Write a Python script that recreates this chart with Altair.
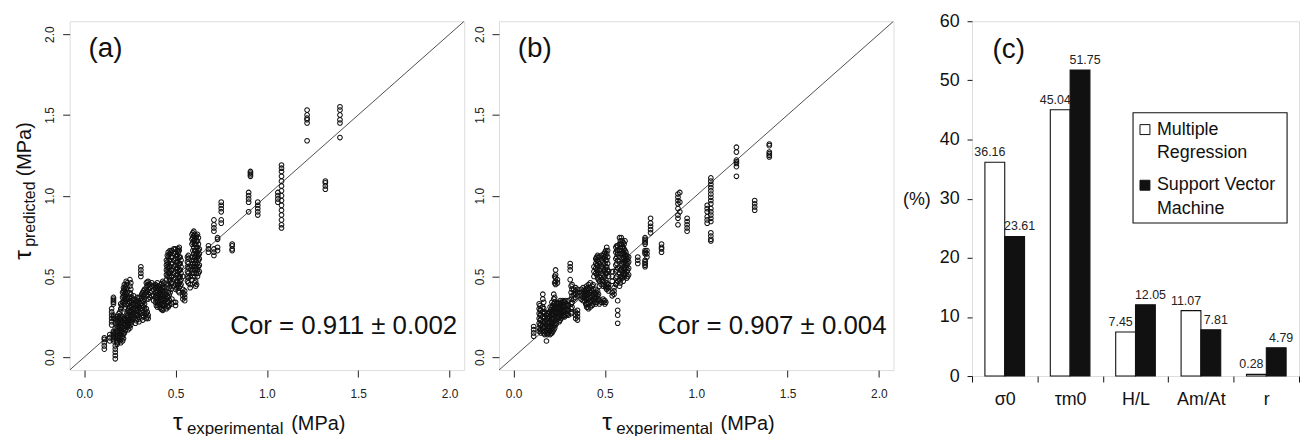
import altair as alt
import pandas as pd

FONT = "Liberation Sans"

# ---------------- panel (a): multiple regression ----------------
a_x = [0.11, 0.14, 0.15, 0.16, 0.17, 0.18, 0.19, 0.20, 0.21, 0.22, 0.23, 0.24, 0.25,
       0.26, 0.27, 0.28, 0.29, 0.30, 0.31, 0.32, 0.33, 0.34, 0.35, 0.37, 0.39, 0.40,
       0.41, 0.42, 0.43, 0.44, 0.45, 0.46, 0.47, 0.48, 0.50, 0.51, 0.52, 0.53, 0.54,
       0.55, 0.57, 0.58, 0.59, 0.60, 0.61, 0.62, 0.63, 0.68, 0.71, 0.73, 0.75, 0.81,
       0.90, 0.91, 0.95, 1.06, 1.08, 1.22, 1.32, 1.40]
a_y = [
    [0.05, 0.07, 0.09, 0.11, 0.12],
    [0.10, 0.12, 0.14],
    [0.20, 0.22, 0.24, 0.26, 0.28, 0.30],
    [0.10, 0.12, 0.14, 0.16, 0.24, 0.26, 0.33, 0.35, 0.37],
    [-0.01, 0.01, 0.03, 0.05, 0.07, 0.12, 0.15, 0.18, 0.21, 0.24],
    [0.08, 0.10, 0.13, 0.16, 0.19, 0.22, 0.25],
    [0.12, 0.15, 0.18, 0.21, 0.24, 0.27],
    [0.09, 0.11, 0.14, 0.17, 0.20, 0.23, 0.26, 0.30, 0.33],
    [0.10, 0.13, 0.16, 0.19, 0.22, 0.25, 0.34, 0.37, 0.40],
    [0.15, 0.18, 0.21, 0.24, 0.30, 0.33, 0.36, 0.39, 0.42, 0.45],
    [0.20, 0.23, 0.26, 0.36, 0.39, 0.42, 0.45, 0.47],
    [0.17, 0.20, 0.23, 0.26, 0.29, 0.33, 0.36],
    [0.18, 0.21, 0.24, 0.28, 0.31, 0.34, 0.37, 0.40, 0.44, 0.48],
    [0.22, 0.25, 0.28, 0.31, 0.34, 0.37],
    [0.24, 0.27, 0.30, 0.33, 0.36, 0.38],
    [0.21, 0.24, 0.27, 0.30, 0.33],
    [0.26, 0.29, 0.32, 0.35, 0.37],
    [0.22, 0.25, 0.28, 0.31, 0.34, 0.37],
    [0.50, 0.52, 0.54, 0.56],
    [0.23, 0.26, 0.29, 0.32, 0.35, 0.38, 0.40],
    [0.27, 0.30, 0.33, 0.36, 0.39, 0.42],
    [0.24, 0.27, 0.30, 0.40, 0.43, 0.46],
    [0.24, 0.26, 0.36, 0.39, 0.42, 0.45, 0.47],
    [0.38, 0.41, 0.44, 0.46],
    [0.34, 0.37, 0.40, 0.43, 0.45],
    [0.31, 0.34, 0.37, 0.40, 0.43, 0.46],
    [0.33, 0.36, 0.39, 0.42],
    [0.30, 0.33, 0.36, 0.39, 0.42, 0.45],
    [0.29, 0.32, 0.35, 0.38, 0.41, 0.44, 0.47],
    [0.32, 0.35, 0.38, 0.41, 0.43],
    [0.30, 0.33, 0.36, 0.39, 0.48, 0.51, 0.54, 0.57, 0.60],
    [0.31, 0.34, 0.37, 0.40, 0.45, 0.52, 0.55, 0.58, 0.62, 0.65],
    [0.40, 0.44, 0.48, 0.52, 0.56, 0.60, 0.64, 0.66],
    [0.33, 0.36, 0.46, 0.50, 0.54, 0.58, 0.62, 0.66],
    [0.32, 0.34, 0.42, 0.45, 0.49, 0.53, 0.57, 0.61, 0.65, 0.67],
    [0.44, 0.47, 0.51, 0.55, 0.59, 0.63, 0.66],
    [0.40, 0.43, 0.46, 0.50, 0.54, 0.58, 0.62, 0.66, 0.68],
    [0.45, 0.48, 0.52, 0.56, 0.60],
    [0.36, 0.38, 0.40, 0.42, 0.50],
    [0.35, 0.37, 0.39, 0.41],
    [0.46, 0.49, 0.52, 0.55, 0.58, 0.61, 0.63],
    [0.43, 0.45, 0.50, 0.56],
    [0.48, 0.52, 0.56, 0.60, 0.70, 0.73, 0.76],
    [0.52, 0.56, 0.60, 0.64, 0.68, 0.72, 0.75, 0.78],
    [0.44, 0.47, 0.55, 0.59, 0.63, 0.66, 0.70, 0.74],
    [0.50, 0.54, 0.58, 0.62, 0.65, 0.68, 0.72, 0.76],
    [0.53, 0.57, 0.61, 0.64, 0.67],
    [0.65, 0.67, 0.69],
    [0.63, 0.65, 0.67, 0.78, 0.80, 0.82, 0.85],
    [0.66, 0.68, 0.73, 0.74],
    [0.83, 0.85, 0.90, 0.92, 0.94, 0.96],
    [0.66, 0.67, 0.69, 0.70],
    [0.90, 0.96, 0.98, 1.00, 1.02],
    [1.12, 1.13, 1.14, 1.15],
    [0.88, 0.90, 0.92, 0.94, 0.96],
    [0.96, 0.98, 1.00, 1.02],
    [0.80, 0.82, 0.85, 0.88, 0.91, 0.94, 0.97, 1.00, 1.03, 1.06, 1.09, 1.12, 1.15, 1.17, 1.19],
    [1.34, 1.45, 1.47, 1.48, 1.50, 1.53],
    [1.04, 1.06, 1.08, 1.09],
    [1.36, 1.45, 1.47, 1.50, 1.53, 1.55],
]
# further runs (a)
a_x_more = [0.16, 0.18, 0.195, 0.205, 0.215, 0.225, 0.235, 0.245, 0.255, 0.265, 0.285,
            0.295, 0.315, 0.325, 0.345, 0.36, 0.38, 0.395, 0.405, 0.415, 0.425, 0.435,
            0.455, 0.465, 0.475, 0.49, 0.505, 0.515, 0.525, 0.565, 0.595, 0.605, 0.615,
            0.625]
a_y_more = [
    [0.11, 0.13, 0.15, 0.25, 0.34, 0.36],
    [0.09, 0.115, 0.145, 0.175, 0.205, 0.235],
    [0.10, 0.13, 0.16, 0.19, 0.22, 0.25, 0.28],
    [0.12, 0.15, 0.18, 0.21, 0.24, 0.31, 0.32],
    [0.115, 0.145, 0.175, 0.205, 0.235, 0.35, 0.38, 0.41, 0.43],
    [0.165, 0.195, 0.225, 0.31, 0.345, 0.375, 0.405, 0.435],
    [0.185, 0.215, 0.245, 0.275, 0.37, 0.40, 0.43, 0.46],
    [0.19, 0.22, 0.25, 0.28, 0.31, 0.345],
    [0.20, 0.23, 0.26, 0.29, 0.32, 0.35, 0.39, 0.42, 0.46],
    [0.235, 0.265, 0.295, 0.325, 0.355],
    [0.225, 0.255, 0.285, 0.315, 0.345],
    [0.235, 0.265, 0.30, 0.33, 0.36],
    [0.245, 0.275, 0.305, 0.335, 0.365, 0.39],
    [0.25, 0.28, 0.31, 0.345, 0.375, 0.41],
    [0.25, 0.28, 0.38, 0.41, 0.44, 0.465],
    [0.37, 0.40, 0.43, 0.45],
    [0.35, 0.38, 0.42, 0.445],
    [0.32, 0.355, 0.385, 0.415, 0.44],
    [0.32, 0.35, 0.38, 0.41, 0.44],
    [0.31, 0.345, 0.375, 0.405, 0.435],
    [0.295, 0.325, 0.355, 0.385, 0.415, 0.455],
    [0.30, 0.33, 0.365, 0.395, 0.425, 0.46],
    [0.315, 0.345, 0.375, 0.50, 0.53, 0.56, 0.59, 0.63],
    [0.32, 0.355, 0.385, 0.43, 0.47, 0.50, 0.535, 0.565, 0.60, 0.635],
    [0.42, 0.46, 0.50, 0.54, 0.58, 0.62, 0.65],
    [0.34, 0.44, 0.48, 0.52, 0.56, 0.60, 0.64, 0.67],
    [0.43, 0.47, 0.51, 0.55, 0.59, 0.63],
    [0.41, 0.45, 0.49, 0.53, 0.57, 0.61, 0.65, 0.67],
    [0.44, 0.47, 0.50, 0.54, 0.58, 0.62],
    [0.47, 0.50, 0.53, 0.56, 0.59, 0.62],
    [0.50, 0.54, 0.58, 0.62, 0.66, 0.71, 0.74, 0.77],
    [0.46, 0.50, 0.54, 0.58, 0.62, 0.66, 0.70, 0.73, 0.76],
    [0.45, 0.52, 0.56, 0.60, 0.64, 0.68, 0.72, 0.75],
    [0.52, 0.56, 0.60, 0.63, 0.66, 0.70, 0.74],
]

# ---------------- panel (b): support vector machine ----------------
b_x = [0.11, 0.14, 0.15, 0.16, 0.17, 0.18, 0.19, 0.20, 0.21, 0.22, 0.23, 0.24, 0.25,
       0.26, 0.27, 0.28, 0.29, 0.30, 0.31, 0.32, 0.33, 0.35, 0.37, 0.39, 0.40, 0.41,
       0.43, 0.44, 0.45, 0.46, 0.47, 0.49, 0.50, 0.51, 0.52, 0.54, 0.55, 0.56, 0.57,
       0.58, 0.59, 0.60, 0.61, 0.62, 0.63, 0.68, 0.72, 0.73, 0.75, 0.81, 0.90, 0.91,
       0.95, 1.06, 1.08, 1.22, 1.32, 1.40]
b_y = [
    [0.13, 0.15, 0.17, 0.19],
    [0.16, 0.18, 0.21, 0.24, 0.27, 0.30, 0.33],
    [0.15, 0.17, 0.20, 0.23, 0.26, 0.29],
    [0.18, 0.20, 0.22, 0.25, 0.28, 0.31, 0.36, 0.39],
    [0.14, 0.16, 0.19, 0.22, 0.25, 0.28],
    [0.10, 0.15, 0.17, 0.20, 0.23, 0.26],
    [0.15, 0.18, 0.21, 0.24, 0.27],
    [0.14, 0.16, 0.19, 0.22, 0.25, 0.28, 0.31],
    [0.15, 0.18, 0.21, 0.24, 0.28, 0.31, 0.34],
    [0.17, 0.20, 0.24, 0.27, 0.30, 0.33, 0.36, 0.39],
    [0.20, 0.23, 0.27, 0.30, 0.45, 0.47, 0.49, 0.51, 0.54],
    [0.25, 0.28, 0.31, 0.34, 0.46, 0.48],
    [0.22, 0.25, 0.28, 0.31, 0.34],
    [0.24, 0.27, 0.30, 0.33],
    [0.26, 0.29, 0.32, 0.35],
    [0.25, 0.28, 0.31, 0.34],
    [0.27, 0.30, 0.33],
    [0.26, 0.29, 0.32, 0.35],
    [0.48, 0.54, 0.56, 0.58],
    [0.28, 0.31, 0.34, 0.38, 0.42, 0.45],
    [0.36, 0.39, 0.42],
    [0.23, 0.25, 0.27, 0.29, 0.38, 0.40, 0.42],
    [0.36, 0.38, 0.40, 0.42],
    [0.35, 0.37, 0.39, 0.41],
    [0.31, 0.33, 0.36, 0.39, 0.42, 0.44],
    [0.30, 0.33, 0.36, 0.39, 0.42, 0.45],
    [0.32, 0.35, 0.38, 0.41, 0.44],
    [0.34, 0.37, 0.40, 0.50, 0.53, 0.56],
    [0.33, 0.36, 0.39, 0.42, 0.52, 0.55, 0.58, 0.61],
    [0.35, 0.38, 0.41, 0.49, 0.53, 0.57, 0.60, 0.63],
    [0.33, 0.35, 0.44, 0.47, 0.50, 0.54, 0.58, 0.62],
    [0.34, 0.36, 0.44, 0.47, 0.51, 0.55, 0.59, 0.63],
    [0.33, 0.35, 0.50, 0.54, 0.58, 0.62, 0.65],
    [0.42, 0.44, 0.46, 0.52, 0.56, 0.60, 0.64, 0.68],
    [0.41, 0.43, 0.45, 0.50, 0.53],
    [0.38, 0.40, 0.47, 0.50, 0.53],
    [0.39, 0.41, 0.43],
    [0.45, 0.49, 0.53, 0.57, 0.61, 0.65, 0.68],
    [0.21, 0.26, 0.29, 0.35, 0.47, 0.55, 0.60, 0.64, 0.66, 0.69],
    [0.44, 0.48, 0.52, 0.62, 0.66, 0.70, 0.74],
    [0.50, 0.54, 0.58, 0.66, 0.70, 0.74],
    [0.47, 0.51, 0.55, 0.59, 0.62, 0.65, 0.68, 0.71],
    [0.52, 0.56, 0.60, 0.63, 0.66, 0.72],
    [0.49, 0.53, 0.57, 0.60, 0.63],
    [0.51, 0.55, 0.59, 0.62],
    [0.58, 0.60, 0.62],
    [0.56, 0.58, 0.60, 0.64, 0.66, 0.70, 0.72, 0.74],
    [0.62, 0.64, 0.66],
    [0.77, 0.79, 0.81, 0.83, 0.86],
    [0.65, 0.67, 0.68, 0.70],
    [0.82, 0.86, 0.88, 0.92, 0.95, 0.97, 0.99, 1.01],
    [0.90, 0.96, 1.02],
    [0.78, 0.80, 0.82, 0.84, 0.86],
    [0.83, 0.85, 0.87, 0.90, 0.92, 0.94],
    [0.72, 0.73, 0.75, 0.77, 0.84, 0.86, 0.88, 0.90, 0.92, 0.95, 0.97, 0.99, 1.01, 1.03,
     1.05, 1.07, 1.09, 1.11],
    [1.12, 1.18, 1.20, 1.21, 1.22, 1.27, 1.30],
    [0.91, 0.93, 0.95, 0.97],
    [1.24, 1.25, 1.26, 1.27, 1.31, 1.32],
]
# further runs (b)
b_x_more = [0.145, 0.165, 0.185, 0.195, 0.205, 0.215, 0.225, 0.235, 0.245, 0.255, 0.265,
            0.275, 0.285, 0.295, 0.315, 0.34, 0.38, 0.395, 0.405, 0.42, 0.435, 0.455,
            0.465, 0.48, 0.495, 0.505, 0.515, 0.565, 0.585, 0.595, 0.605, 0.615, 0.625,
            0.72]
b_y_more = [
    [0.17, 0.20, 0.23, 0.26, 0.29, 0.32],
    [0.15, 0.18, 0.21, 0.24, 0.27, 0.30, 0.34],
    [0.14, 0.165, 0.19, 0.215, 0.245, 0.27],
    [0.16, 0.19, 0.22, 0.25, 0.28],
    [0.15, 0.175, 0.205, 0.235, 0.265, 0.295],
    [0.16, 0.19, 0.22, 0.26, 0.29, 0.32],
    [0.18, 0.21, 0.25, 0.28, 0.31, 0.34, 0.37, 0.46, 0.50],
    [0.21, 0.24, 0.28, 0.31, 0.33],
    [0.24, 0.27, 0.30, 0.33],
    [0.23, 0.26, 0.29, 0.32, 0.35],
    [0.25, 0.28, 0.31, 0.34],
    [0.255, 0.285, 0.315, 0.345],
    [0.26, 0.29, 0.32, 0.35],
    [0.265, 0.295, 0.325],
    [0.27, 0.30, 0.33, 0.36, 0.40, 0.44],
    [0.24, 0.26, 0.28, 0.37, 0.39, 0.41, 0.43],
    [0.35, 0.37, 0.39, 0.41, 0.43],
    [0.33, 0.36, 0.38, 0.40, 0.42],
    [0.31, 0.34, 0.37, 0.40, 0.43],
    [0.31, 0.34, 0.37, 0.40, 0.43, 0.46],
    [0.33, 0.36, 0.39, 0.42, 0.45],
    [0.34, 0.37, 0.40, 0.51, 0.54, 0.57, 0.60, 0.62],
    [0.36, 0.39, 0.48, 0.52, 0.56, 0.59, 0.62],
    [0.34, 0.45, 0.48, 0.52, 0.56, 0.60, 0.63],
    [0.35, 0.45, 0.49, 0.53, 0.57, 0.61, 0.64],
    [0.34, 0.43, 0.48, 0.52, 0.56, 0.60, 0.63, 0.66],
    [0.43, 0.45, 0.54, 0.58, 0.62, 0.66],
    [0.46, 0.50, 0.54, 0.58, 0.62, 0.66, 0.69],
    [0.46, 0.50, 0.54, 0.64, 0.68, 0.72],
    [0.49, 0.53, 0.57, 0.61, 0.64, 0.68, 0.72],
    [0.50, 0.54, 0.58, 0.61, 0.64, 0.67, 0.70],
    [0.51, 0.55, 0.58, 0.62, 0.65],
    [0.50, 0.54, 0.58, 0.61],
    [0.57, 0.59, 0.65, 0.71, 0.73],
]

axis_domain = [-0.08, 2.08]
axis_ticks = [0.0, 0.5, 1.0, 1.5, 2.0]

# ---------------- panel (c): relative importance ----------------
categories = ["σ0", "τm0", "H/L", "Am/At", "r"]
series = ["Multiple Regression", "Support Vector Machine"]
mr_values = [36.16, 45.04, 7.45, 11.07, 0.28]
svm_values = [23.61, 51.75, 12.05, 7.81, 4.79]
pct_ticks = [0, 10, 20, 30, 40, 50, 60]


def flatten(*pairs):
    rows = []
    for xs, ys in pairs:
        for xv, col in zip(xs, ys):
            for yv in col:
                rows.append({"exp": xv, "pred": yv})
    return pd.DataFrame(rows)


anno = pd.DataFrame({"k": [0]})
W_AB, H_AB = 397, 351


def note(text, x, y, size, align="left", baseline="alphabetic", angle=0):
    kw = dict(text=text, font=FONT, fontSize=size, align=align, baseline=baseline,
              color="#111")
    if angle:
        kw["angle"] = angle
    return alt.Chart(anno).mark_text(**kw).encode(x=alt.value(x), y=alt.value(y))


def scatter_panel(df, tag, cor, with_ytitle):
    xs = alt.Scale(domain=axis_domain, nice=False, zero=False)
    ys = alt.Scale(domain=axis_domain, nice=False, zero=False)
    x_axis = alt.Axis(values=axis_ticks, format=".1f", title=None, domain=False, grid=False,
                      tickSize=7, tickColor="#222", labelFont=FONT, labelFontSize=12,
                      labelColor="#222", labelPadding=12)
    y_axis = alt.Axis(values=axis_ticks, format=".1f", title=None, domain=False, grid=False,
                      tickSize=7, tickColor="#222", labelFont=FONT, labelFontSize=12,
                      labelColor="#222", labelAngle=270, labelAlign="center",
                      labelBaseline="bottom", labelPadding=6)
    pts = alt.Chart(df).mark_point(shape="circle", filled=False, size=22, strokeWidth=1.05,
                                   color="#111", opacity=1).encode(
        x=alt.X("exp:Q", scale=xs, axis=x_axis),
        y=alt.Y("pred:Q", scale=ys, axis=y_axis),
    )
    diag = alt.Chart(pd.DataFrame({"v": axis_domain})).mark_line(
        color="#222", strokeWidth=0.8, clip=True).encode(x="v:Q", y="v:Q")
    layers = [diag, pts,
              note(tag, 36, 28, 28, align="center", baseline="middle"),
              note(cor, 390, 307, 26, align="right", baseline="middle"),
              note("τ", 104, 411, 25),
              note("experimental", 118, 415, 17),
              note("(MPa)", 223, 411, 20)]
    if with_ytitle:
        layers += [note("τ", -39, 240, 25, angle=270),
                   note("predicted", -35, 227, 16, angle=270),
                   note("(MPa)", -39, 156, 20, angle=270)]
    return alt.layer(*layers).properties(width=W_AB, height=H_AB)


panel_a = scatter_panel(flatten((a_x, a_y), (a_x_more, a_y_more)), "(a)",
                        "Cor = 0.911 ± 0.002", True)
panel_b = scatter_panel(flatten((b_x, b_y), (b_x_more, b_y_more)), "(b)",
                        "Cor = 0.907 ± 0.004", False)

bar_df = pd.DataFrame({
    "cat": categories * 2,
    "series": [series[0]] * 5 + [series[1]] * 5,
    "value": mr_values + svm_values,
})

W_C, H_C = 329, 357
xc = alt.X("cat:N", sort=categories, scale=alt.Scale(paddingInner=0, paddingOuter=0),
           axis=alt.Axis(title=None, tickBand="extent", tickSize=6, tickColor="#111",
                         domain=False, labelAngle=0, labelFont=FONT, labelFontSize=18,
                         labelColor="#111", labelPadding=9))
xo = alt.XOffset("series:N", sort=series, scale=alt.Scale(paddingInner=0, paddingOuter=0.65))
yc = alt.Y("value:Q", scale=alt.Scale(domain=[0, 60], nice=False),
           axis=alt.Axis(values=pct_ticks, title="(%)", titleAngle=0, titleAlign="right",
                         titleBaseline="middle", titleX=-42, titleY=179, titleFont=FONT,
                         titleFontSize=18, titleFontWeight="normal", titleColor="#111",
                         grid=False, domain=False, tickSize=5, tickColor="#111",
                         labelFont=FONT, labelFontSize=18, labelColor="#111",
                         labelPadding=8))

bars = alt.Chart(bar_df).mark_bar(stroke="#111", strokeWidth=1.1).encode(
    x=xc, xOffset=xo, y=yc,
    fill=alt.Fill("series:N", scale=alt.Scale(domain=series, range=["white", "#111"]),
                  legend=None),
)


def value_labels(name, dx):
    return alt.Chart(bar_df).transform_filter(alt.datum.series == name).mark_text(
        font=FONT, fontSize=12.5, color="#222", baseline="alphabetic", dy=-6, dx=dx
    ).encode(x=xc, xOffset=xo, y=yc, text=alt.Text("value:Q", format=".2f"))


legend_box = alt.Chart(anno).mark_rect(fill="white", stroke="#111", strokeWidth=1.1).encode(
    x=alt.value(162), x2=alt.value(317), y=alt.value(92), y2=alt.value(203))
sq_mr = alt.Chart(anno).mark_square(size=100, fill="white", stroke="#111", strokeWidth=1,
                                    opacity=1).encode(x=alt.value(174), y=alt.value(109))
sq_svm = alt.Chart(anno).mark_square(size=100, fill="#111", stroke="#111", strokeWidth=1,
                                     opacity=1).encode(x=alt.value(174), y=alt.value(165))

panel_c = alt.layer(
    bars,
    value_labels(series[0], -5),
    value_labels(series[1], 5),
    legend_box, sq_mr, sq_svm,
    note("Multiple", 186, 109, 18, baseline="middle"),
    note("Regression", 186, 133, 18, baseline="middle"),
    note("Support Vector", 186, 165, 18, baseline="middle"),
    note("Machine", 186, 189, 18, baseline="middle"),
    note("(c)", 37, 29, 28, align="center", baseline="middle"),
).properties(width=W_C, height=H_C)

# invisible spacer so that the gap before panel (c) is wider than the one between (a) and (b)
spacer = alt.Chart(anno).mark_point(opacity=0).encode(
    x=alt.X("k:Q", axis=None), y=alt.Y("k:Q", axis=None)
).properties(width=9, height=H_AB, view=alt.ViewBackground(strokeOpacity=0))

chart = alt.hconcat(panel_a, panel_b, spacer, panel_c, spacing=35, bounds="flush").properties(
    padding={"left": 2, "top": 2, "right": 0, "bottom": 0}
).configure_view(stroke="#222", strokeWidth=1).configure(background="white")

chart.save("out.html", embed_options={"renderer": "svg", "actions": False})
